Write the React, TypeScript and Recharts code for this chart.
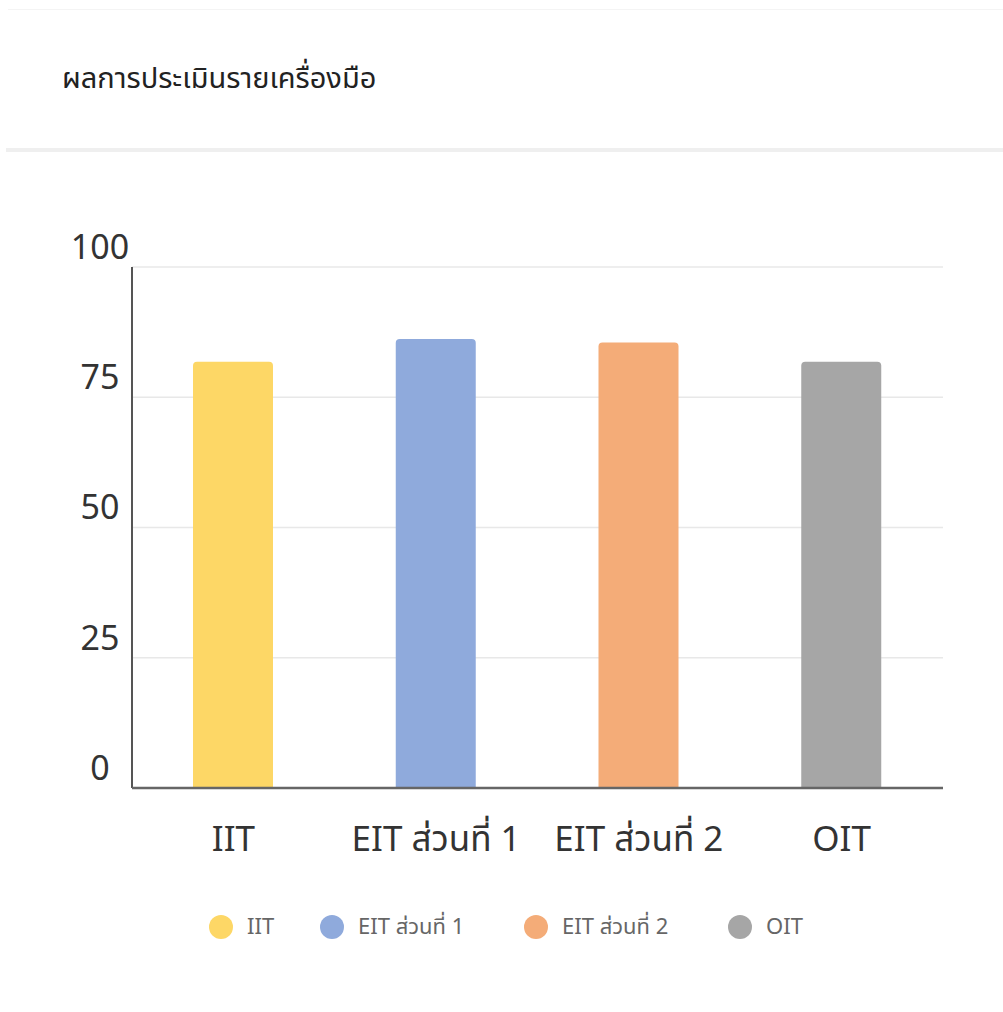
import { BarChart, Bar, XAxis, YAxis, CartesianGrid, Cell } from 'recharts';

const categories = ['IIT', 'EIT ส่วนที่ 1', 'EIT ส่วนที่ 2', 'OIT'];
const scores = [81.8, 86.2, 85.5, 81.8];
const barColors = ['#FDD766', '#8FAADC', '#F4AC78', '#A6A6A6'];
const yTicks = [0, 25, 50, 75, 100];

const FONT = '"Noto Sans Thai", "Noto Sans", "DejaVu Sans", sans-serif';

const data = categories.map((name, i) => ({ name, value: scores[i] }));

function YTick({ y, payload }: any) {
  return (
    <text x={100} y={y - 20} dy="0.35em" textAnchor="middle" fontSize={34} fill="#333" fontFamily={FONT}>
      {payload.value}
    </text>
  );
}

function XTick({ x, y, payload }: any) {
  return (
    <text x={x} y={y + 43} dy="0.35em" textAnchor="middle" fontSize={35} fill="#333" fontFamily={FONT}>
      {payload.value}
    </text>
  );
}

export default function App() {
  return (
    <div style={{ position: 'absolute', left: 0, top: 0, width: 1003, height: 1012, background: '#fff', fontFamily: FONT }}>
      {/* header */}
      <div style={{ position: 'absolute', left: 8, top: 9, width: 995, height: 1, background: '#f4f4f4' }} />
      <div style={{ position: 'absolute', left: 62, top: 60, fontSize: 29, color: '#222', lineHeight: '38px' }}>ผลการประเมินรายเครื่องมือ</div>
      <div style={{ position: 'absolute', left: 6, top: 148, width: 997, height: 4, background: '#efefef' }} />

      <div style={{ position: 'absolute', left: 0, top: 0 }}>
        <BarChart width={1003} height={880} data={data} margin={{ top: 267, right: 60, left: 0, bottom: 0 }}>
          <CartesianGrid vertical={false} stroke="#e8e8e8" strokeWidth={1.5} />
          <YAxis
            width={132}
            domain={[0, 100]}
            ticks={yTicks}
            tickLine={false}
            axisLine={{ stroke: '#555', strokeWidth: 2 }}
            tick={<YTick />}
          />
          <XAxis
            dataKey="name"
            height={92}
            tickLine={false}
            axisLine={{ stroke: '#666', strokeWidth: 2.5 }}
            tick={<XTick />}
          />
          <Bar dataKey="value" barSize={80} radius={[4, 4, 0, 0]} isAnimationActive={false}>
            {data.map((d, i) => (
              <Cell key={d.name} fill={barColors[i]} />
            ))}
          </Bar>
        </BarChart>
      </div>

      {/* legend */}
      <div style={{ position: 'absolute', left: 0, top: 912, width: 1003, height: 30 }}>
        {categories.map((c, i) => {
          const lefts = [209, 320, 524, 728];
          return (
            <div key={c} style={{ position: 'absolute', left: lefts[i], top: 0, display: 'flex', alignItems: 'center', height: 30 }}>
              <span style={{ width: 24, height: 24, borderRadius: 12, background: barColors[i], display: 'inline-block' }} />
              <span style={{ marginLeft: 14, fontSize: 22, color: '#666' }}>{c}</span>
            </div>
          );
        })}
      </div>
    </div>
  );
}
